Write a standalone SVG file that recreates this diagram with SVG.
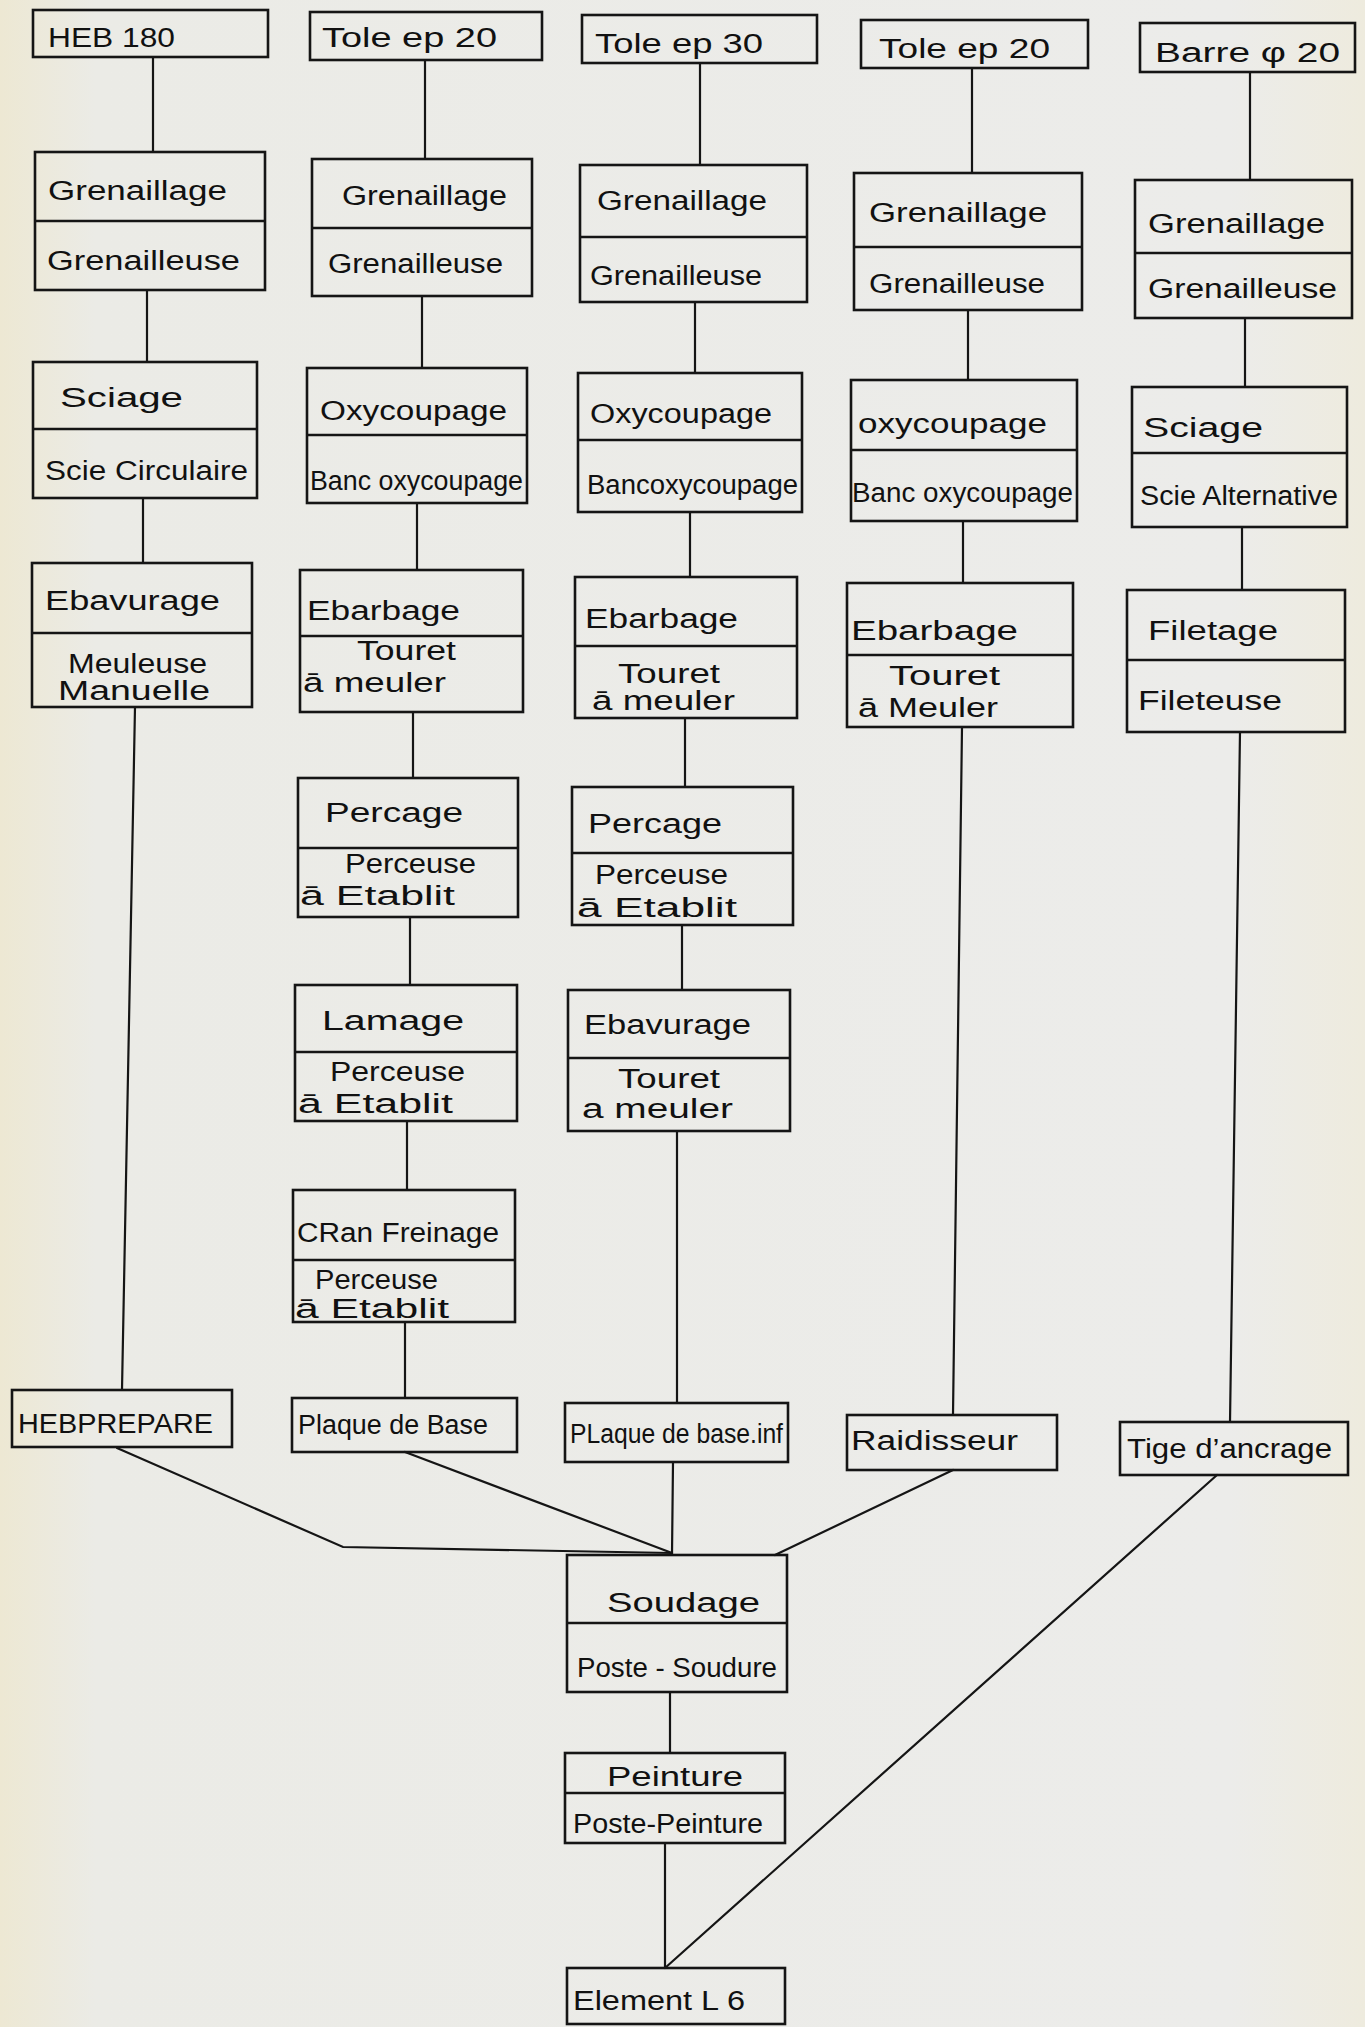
<svg xmlns="http://www.w3.org/2000/svg" width="1365" height="2027" viewBox="0 0 1365 2027">
<defs>
<linearGradient id="paper" x1="0" y1="0" x2="1" y2="0">
<stop offset="0" stop-color="#ede8d3"/>
<stop offset="0.07" stop-color="#ebebe6"/>
<stop offset="0.9" stop-color="#ececea"/>
<stop offset="1" stop-color="#eeebde"/>
</linearGradient>
</defs>
<style>
.box{fill:none;stroke:#151515;stroke-width:2.6}
.div{stroke:#151515;stroke-width:2.4}
.con{fill:none;stroke:#151515;stroke-width:2.2;stroke-linecap:round}
text{font-family:"Liberation Sans","DejaVu Sans",sans-serif;fill:#111;font-size:27px}
</style>
<rect x="0" y="0" width="1365" height="2027" fill="url(#paper)"/>

<g id="connectors">
<line class="con" x1="153" y1="57" x2="153" y2="152"/>
<line class="con" x1="147" y1="290" x2="147" y2="362"/>
<line class="con" x1="143" y1="498" x2="143" y2="563"/>
<line class="con" x1="135" y1="707" x2="122" y2="1390"/>
<line class="con" x1="425" y1="60" x2="425" y2="159"/>
<line class="con" x1="422" y1="296" x2="422" y2="368"/>
<line class="con" x1="417" y1="503" x2="417" y2="570"/>
<line class="con" x1="413" y1="712" x2="413" y2="778"/>
<line class="con" x1="410" y1="917" x2="410" y2="985"/>
<line class="con" x1="407" y1="1121" x2="407" y2="1190"/>
<line class="con" x1="405" y1="1322" x2="405" y2="1398"/>
<line class="con" x1="700" y1="63" x2="700" y2="165"/>
<line class="con" x1="695" y1="302" x2="695" y2="373"/>
<line class="con" x1="690" y1="512" x2="690" y2="577"/>
<line class="con" x1="685" y1="718" x2="685" y2="787"/>
<line class="con" x1="682" y1="925" x2="682" y2="990"/>
<line class="con" x1="677" y1="1131" x2="677" y2="1403"/>
<line class="con" x1="673" y1="1462" x2="672" y2="1555"/>
<line class="con" x1="972" y1="68" x2="972" y2="173"/>
<line class="con" x1="968" y1="310" x2="968" y2="380"/>
<line class="con" x1="963" y1="521" x2="963" y2="583"/>
<line class="con" x1="962" y1="727" x2="953" y2="1415"/>
<line class="con" x1="1250" y1="72" x2="1250" y2="180"/>
<line class="con" x1="1245" y1="318" x2="1245" y2="387"/>
<line class="con" x1="1242" y1="527" x2="1242" y2="590"/>
<line class="con" x1="1240" y1="732" x2="1230" y2="1422"/>
<polyline class="con" points="117,1448 343,1547 672,1553"/>
<line class="con" x1="405" y1="1452" x2="672" y2="1553"/>
<line class="con" x1="953" y1="1470" x2="775" y2="1555"/>
<line class="con" x1="670" y1="1692" x2="670" y2="1753"/>
<line class="con" x1="665" y1="1843" x2="665" y2="1968"/>
<line class="con" x1="1217" y1="1475" x2="665" y2="1968"/>
</g>

<!-- Column 1 -->
<g id="c1_heb180"><rect class="box" x="33" y="10" width="235" height="47"/>
<text x="48" y="47" textLength="127" lengthAdjust="spacingAndGlyphs" font-size="30">HEB 180</text></g>
<g id="c1_grenaillage"><rect class="box" x="35" y="152" width="230" height="138"/><line class="div" x1="35" y1="221" x2="265" y2="221"/>
<text x="48" y="200" textLength="179" lengthAdjust="spacingAndGlyphs">Grenaillage</text>
<text x="47" y="270" textLength="193" lengthAdjust="spacingAndGlyphs">Grenailleuse</text></g>
<g id="c1_sciage"><rect class="box" x="33" y="362" width="224" height="136"/><line class="div" x1="33" y1="429" x2="257" y2="429"/>
<text x="60" y="407" textLength="123" lengthAdjust="spacingAndGlyphs">Sciage</text>
<text x="45" y="480" textLength="203" lengthAdjust="spacingAndGlyphs">Scie Circulaire</text></g>
<g id="c1_ebavurage"><rect class="box" x="32" y="563" width="220" height="144"/><line class="div" x1="32" y1="633" x2="252" y2="633"/>
<text x="45" y="610" textLength="175" lengthAdjust="spacingAndGlyphs">Ebavurage</text>
<text x="68" y="673" textLength="139" lengthAdjust="spacingAndGlyphs">Meuleuse</text>
<text x="58" y="700" textLength="152" lengthAdjust="spacingAndGlyphs">Manuelle</text></g>
<g id="c1_hebprepare"><rect class="box" x="12" y="1390" width="220" height="57"/>
<text x="18" y="1433" textLength="195" lengthAdjust="spacingAndGlyphs" font-size="25">HEBPREPARE</text></g>

<!-- Column 2 -->
<g id="c2_tole"><rect class="box" x="310" y="12" width="232" height="48"/>
<text x="322" y="47" textLength="175" lengthAdjust="spacingAndGlyphs" font-size="29">Tole ep 20</text></g>
<g id="c2_grenaillage"><rect class="box" x="312" y="159" width="220" height="137"/><line class="div" x1="312" y1="228" x2="532" y2="228"/>
<text x="342" y="205" textLength="165" lengthAdjust="spacingAndGlyphs">Grenaillage</text>
<text x="328" y="273" textLength="175" lengthAdjust="spacingAndGlyphs">Grenailleuse</text></g>
<g id="c2_oxy"><rect class="box" x="307" y="368" width="220" height="135"/><line class="div" x1="307" y1="435" x2="527" y2="435"/>
<text x="320" y="420" textLength="187" lengthAdjust="spacingAndGlyphs">Oxycoupage</text>
<text x="310" y="490" textLength="213" lengthAdjust="spacingAndGlyphs">Banc oxycoupage</text></g>
<g id="c2_ebarbage"><rect class="box" x="300" y="570" width="223" height="142"/><line class="div" x1="300" y1="636" x2="523" y2="636"/>
<text x="307" y="620" textLength="153" lengthAdjust="spacingAndGlyphs">Ebarbage</text>
<text x="357" y="660" textLength="99" lengthAdjust="spacingAndGlyphs" font-size="25">Touret</text>
<text x="303" y="692" textLength="143" lengthAdjust="spacingAndGlyphs">ā meuler</text></g>
<g id="c2_percage"><rect class="box" x="298" y="778" width="220" height="139"/><line class="div" x1="298" y1="848" x2="518" y2="848"/>
<text x="325" y="822" textLength="138" lengthAdjust="spacingAndGlyphs">Percage</text>
<text x="345" y="873" textLength="131" lengthAdjust="spacingAndGlyphs" font-size="25">Perceuse</text>
<text x="300" y="905" textLength="155" lengthAdjust="spacingAndGlyphs">ā Etablit</text></g>
<g id="c2_lamage"><rect class="box" x="295" y="985" width="222" height="136"/><line class="div" x1="295" y1="1052" x2="517" y2="1052"/>
<text x="322" y="1030" textLength="142" lengthAdjust="spacingAndGlyphs">Lamage</text>
<text x="330" y="1081" textLength="135" lengthAdjust="spacingAndGlyphs" font-size="25">Perceuse</text>
<text x="298" y="1113" textLength="155" lengthAdjust="spacingAndGlyphs">ā Etablit</text></g>
<g id="c2_chanfreinage"><rect class="box" x="293" y="1190" width="222" height="132"/><line class="div" x1="293" y1="1260" x2="515" y2="1260"/>
<text x="297" y="1242" textLength="202" lengthAdjust="spacingAndGlyphs">CRan Freinage</text>
<text x="315" y="1289" textLength="123" lengthAdjust="spacingAndGlyphs" font-size="20">Perceuse</text>
<text x="295" y="1318" textLength="154" lengthAdjust="spacingAndGlyphs" font-size="20">ā Etablit</text></g>
<g id="c2_plaque"><rect class="box" x="292" y="1398" width="225" height="54"/>
<text x="298" y="1434" textLength="190" lengthAdjust="spacingAndGlyphs" font-size="26">Plaque de Base</text></g>

<!-- Column 3 -->
<g id="c3_tole"><rect class="box" x="582" y="15" width="235" height="48"/>
<text x="595" y="53" textLength="168" lengthAdjust="spacingAndGlyphs" font-size="29">Tole ep 30</text></g>
<g id="c3_grenaillage"><rect class="box" x="580" y="165" width="227" height="137"/><line class="div" x1="580" y1="237" x2="807" y2="237"/>
<text x="597" y="210" textLength="170" lengthAdjust="spacingAndGlyphs">Grenaillage</text>
<text x="590" y="285" textLength="172" lengthAdjust="spacingAndGlyphs">Grenailleuse</text></g>
<g id="c3_oxy"><rect class="box" x="578" y="373" width="224" height="139"/><line class="div" x1="578" y1="440" x2="802" y2="440"/>
<text x="590" y="423" textLength="182" lengthAdjust="spacingAndGlyphs">Oxycoupage</text>
<text x="587" y="494" textLength="211" lengthAdjust="spacingAndGlyphs">Bancoxycoupage</text></g>
<g id="c3_ebarbage"><rect class="box" x="575" y="577" width="222" height="141"/><line class="div" x1="575" y1="646" x2="797" y2="646"/>
<text x="585" y="628" textLength="153" lengthAdjust="spacingAndGlyphs">Ebarbage</text>
<text x="618" y="683" textLength="102" lengthAdjust="spacingAndGlyphs" font-size="25">Touret</text>
<text x="592" y="710" textLength="143" lengthAdjust="spacingAndGlyphs">ā meuler</text></g>
<g id="c3_percage"><rect class="box" x="572" y="787" width="221" height="138"/><line class="div" x1="572" y1="853" x2="793" y2="853"/>
<text x="588" y="833" textLength="134" lengthAdjust="spacingAndGlyphs">Percage</text>
<text x="595" y="884" textLength="133" lengthAdjust="spacingAndGlyphs" font-size="25">Perceuse</text>
<text x="577" y="917" textLength="160" lengthAdjust="spacingAndGlyphs">ā Etablit</text></g>
<g id="c3_ebavurage"><rect class="box" x="568" y="990" width="222" height="141"/><line class="div" x1="568" y1="1058" x2="790" y2="1058"/>
<text x="584" y="1034" textLength="167" lengthAdjust="spacingAndGlyphs">Ebavurage</text>
<text x="618" y="1088" textLength="102" lengthAdjust="spacingAndGlyphs" font-size="25">Touret</text>
<text x="582" y="1118" textLength="151" lengthAdjust="spacingAndGlyphs">a meuler</text></g>
<g id="c3_plaque"><rect class="box" x="565" y="1403" width="223" height="59"/>
<text x="570" y="1443" textLength="213" lengthAdjust="spacingAndGlyphs" font-size="25">PLaque de base.inf</text></g>

<!-- Column 4 -->
<g id="c4_tole"><rect class="box" x="861" y="20" width="227" height="48"/>
<text x="879" y="58" textLength="171" lengthAdjust="spacingAndGlyphs" font-size="31">Tole ep 20</text></g>
<g id="c4_grenaillage"><rect class="box" x="854" y="173" width="228" height="137"/><line class="div" x1="854" y1="247" x2="1082" y2="247"/>
<text x="869" y="222" textLength="178" lengthAdjust="spacingAndGlyphs">Grenaillage</text>
<text x="869" y="293" textLength="176" lengthAdjust="spacingAndGlyphs">Grenailleuse</text></g>
<g id="c4_oxy"><rect class="box" x="851" y="380" width="226" height="141"/><line class="div" x1="851" y1="450" x2="1077" y2="450"/>
<text x="858" y="433" textLength="189" lengthAdjust="spacingAndGlyphs">oxycoupage</text>
<text x="852" y="502" textLength="221" lengthAdjust="spacingAndGlyphs">Banc oxycoupage</text></g>
<g id="c4_ebarbage"><rect class="box" x="847" y="583" width="226" height="144"/><line class="div" x1="847" y1="655" x2="1073" y2="655"/>
<text x="851" y="640" textLength="167" lengthAdjust="spacingAndGlyphs">Ebarbage</text>
<text x="889" y="685" textLength="111" lengthAdjust="spacingAndGlyphs" font-size="25">Touret</text>
<text x="858" y="717" textLength="140" lengthAdjust="spacingAndGlyphs">ā Meuler</text></g>
<g id="c4_raidisseur"><rect class="box" x="847" y="1415" width="210" height="55"/>
<text x="851" y="1450" textLength="167" lengthAdjust="spacingAndGlyphs">Raidisseur</text></g>

<!-- Column 5 -->
<g id="c5_barre"><rect class="box" x="1140" y="23" width="215" height="49"/>
<text x="1155" y="62" textLength="185" lengthAdjust="spacingAndGlyphs" font-size="30">Barre φ 20</text></g>
<g id="c5_grenaillage"><rect class="box" x="1135" y="180" width="217" height="138"/><line class="div" x1="1135" y1="253" x2="1352" y2="253"/>
<text x="1148" y="233" textLength="177" lengthAdjust="spacingAndGlyphs">Grenaillage</text>
<text x="1148" y="298" textLength="189" lengthAdjust="spacingAndGlyphs">Grenailleuse</text></g>
<g id="c5_sciage"><rect class="box" x="1132" y="387" width="215" height="140"/><line class="div" x1="1132" y1="453" x2="1347" y2="453"/>
<text x="1143" y="437" textLength="120" lengthAdjust="spacingAndGlyphs">Sciage</text>
<text x="1140" y="505" textLength="198" lengthAdjust="spacingAndGlyphs">Scie Alternative</text></g>
<g id="c5_filetage"><rect class="box" x="1127" y="590" width="218" height="142"/><line class="div" x1="1127" y1="660" x2="1345" y2="660"/>
<text x="1148" y="640" textLength="130" lengthAdjust="spacingAndGlyphs">Filetage</text>
<text x="1138" y="710" textLength="144" lengthAdjust="spacingAndGlyphs">Fileteuse</text></g>
<g id="c5_tige"><rect class="box" x="1120" y="1422" width="228" height="53"/>
<text x="1127" y="1458" textLength="205" lengthAdjust="spacingAndGlyphs">Tige d’ancrage</text></g>

<!-- Bottom -->
<g id="soudage"><rect class="box" x="567" y="1555" width="220" height="137"/><line class="div" x1="567" y1="1623" x2="787" y2="1623"/>
<text x="607" y="1612" textLength="153" lengthAdjust="spacingAndGlyphs" font-size="29">Soudage</text>
<text x="577" y="1677" textLength="200" lengthAdjust="spacingAndGlyphs">Poste - Soudure</text></g>
<g id="peinture"><rect class="box" x="565" y="1753" width="220" height="90"/><line class="div" x1="565" y1="1793" x2="785" y2="1793"/>
<text x="607" y="1786" textLength="136" lengthAdjust="spacingAndGlyphs">Peinture</text>
<text x="573" y="1833" textLength="190" lengthAdjust="spacingAndGlyphs">Poste-Peinture</text></g>
<g id="element"><rect class="box" x="567" y="1968" width="218" height="56"/>
<text x="573" y="2010" textLength="172" lengthAdjust="spacingAndGlyphs" font-size="29">Element L 6</text></g>
</svg>
